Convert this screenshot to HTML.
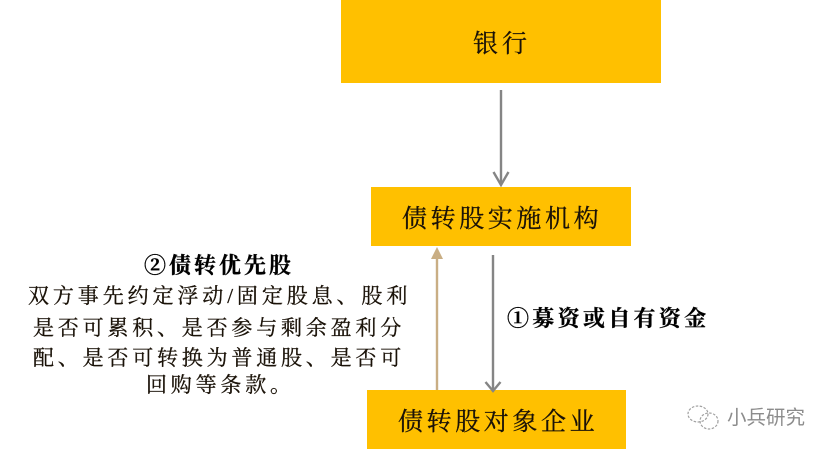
<!DOCTYPE html>
<html><head><meta charset="utf-8"><style>
html,body{margin:0;padding:0;background:#fff}
#p{position:relative;width:832px;height:454px;overflow:hidden;background:#fff;font-family:"Liberation Serif","Noto Serif CJK SC",serif;color:#1a1208}
.b{position:absolute;background:#ffc000}
.t{position:absolute;white-space:nowrap;line-height:1;-webkit-text-stroke:0.3px currentColor}
svg{position:absolute;left:0;top:0}
</style></head><body><div id="p">
<div class="b" style="left:341px;top:0;width:320px;height:83px"></div>
<div class="b" style="left:371px;top:187px;width:260px;height:59px"></div>
<div class="b" style="left:367px;top:390px;width:259px;height:59px"></div>
<svg width="832" height="454" fill="none">
<g stroke="#858585" stroke-width="2.400">
<path d="M501 90V185"/><path d="M493.500 172L501 185L508.500 172"/>
<path d="M493 255V391"/><path d="M485.500 382L493 391L500.500 382"/>
</g>
<path d="M437 390V256" stroke="#c9ae84" stroke-width="2.400"/>
<path d="M431 259L437 247L443 259Z" fill="#c9ae84"/>
<g stroke="#a0a0a0" stroke-width="1.200" stroke-dasharray="2.500 1.500">
<ellipse cx="698" cy="414" rx="10" ry="8"/>
<ellipse cx="709" cy="421" rx="9" ry="8"/>
</g>
</svg>
<div class="t" style="left:473px;top:32px;font-size:25px;letter-spacing:4px">银行</div>
<div class="t" style="left:402px;top:207px;font-size:25px;letter-spacing:3.600px">债转股实施机构</div>
<div class="t" style="left:398px;top:410px;font-size:25px;letter-spacing:3.600px">债转股对象企业</div>
<div class="t" style="left:144px;top:255px;font-size:22px;font-weight:700;letter-spacing:3px;color:#000">②债转优先股</div>
<div class="t" style="left:28px;top:286px;font-size:21px;letter-spacing:3.900px">双方事先约定浮动/固定股息、股利</div>
<div class="t" style="left:33px;top:318px;font-size:21px;letter-spacing:3.800px">是否可累积、是否参与剩余盈利分</div>
<div class="t" style="left:33px;top:348px;font-size:21px;letter-spacing:3.800px">配、是否可转换为普通股、是否可</div>
<div class="t" style="left:146px;top:375px;font-size:21px;letter-spacing:3.800px">回购等条款。</div>
<div class="t" style="left:507px;top:308px;font-size:22px;font-weight:700;letter-spacing:3.300px;color:#000">①募资或自有资金</div>
<div class="t" style="left:727px;top:409px;font-size:19.500px;color:#8c8c8c;-webkit-text-stroke:0;font-family:'Liberation Sans','Noto Sans CJK SC',sans-serif">小兵研究</div>
</div></body></html>
